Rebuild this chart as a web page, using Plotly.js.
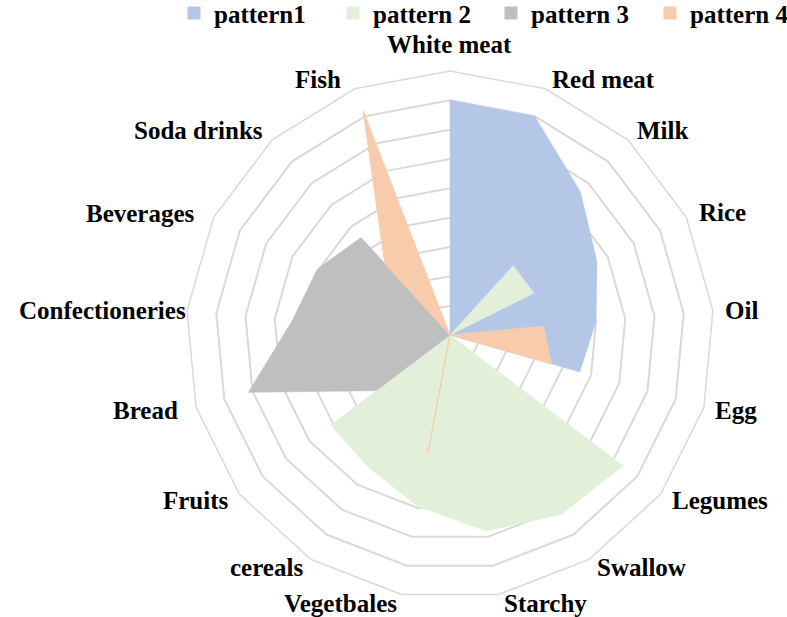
<!DOCTYPE html>
<html>
<head>
<meta charset="utf-8">
<script src="https://cdn.plot.ly/plotly-3.0.1.min.js"></script>
<style>
    body { margin: 0; background: #fff; }
    #plot1 { width: 787px; height: 617px; }
</style>
</head>
<body>
<div id="plot1"></div>
<script>
/* Categories, clockwise from the top */
const categories = ['White meat', 'Red meat', 'Milk', 'Rice', 'Oil', 'Egg', 'Legumes', 'Swallow',
    'Starchy', 'Vegetbales', 'cereals', 'Fruits', 'Bread', 'Confectioneries', 'Beverages',
    'Soda drinks', 'Fish'];

const pattern1 = [8.0, 8.0, 6.6, 5.6, 5.0, 4.6, 0, 0, 0, 0, 0, 0, 0, 0, 0, 0, 0];
const pattern2 = [0, 0, 3.2, 3.2, 0, 0, 7.4, 7.2, 6.8, 5.95, 5.3, 5.1, 0, 0, 0, 0, 0];
const pattern3 = [0, 0, 0, 0, 0, 0, 0, 0, 0, 0, 0, 3.15, 7.15, 5.4, 5.05, 4.5, 0];
const pattern4 = [0, 0, 0, 0, 3.2, 3.6, 0, 0, 0, 4.1, 0, 0, 0, 0, 0, 3.3, 8.2];

const names = ['pattern1', 'pattern 2', 'pattern 3', 'pattern 4'];
const colors = ['#B4C7E7', '#E2F0D9', '#BFBFBF', '#F8CBAD'];

/* Where the category labels sit (pixels from top-left), like the Excel layout
   anchor: 'l' = text starts there, 'r' = text ends there, 'c' = centred */
const labelPos = [
    [450, 45, 'c'], [550, 79, 'l'], [635, 131, 'l'], [697, 212, 'l'], [723, 310, 'l'],
    [713, 410, 'l'], [670, 500, 'l'], [595, 567, 'l'], [502, 603, 'l'], [399, 603, 'r'],
    [305, 567, 'r'], [231, 500, 'r'], [180, 410, 'r'], [188, 310, 'r'], [197, 213, 'r'],
    [265, 131, 'r'], [343, 79, 'r']
];

// left edge (px) of each legend entry, one small legend per pattern
const legendLeft = [174, 333, 491, 650];

const W = 787, H = 617;

// close the polygon by repeating the first point
function closed(arr){
    return arr.concat([arr[0]]);
}

var series = [pattern1, pattern2, pattern3, pattern4];
var data = [];
for(let i = 0; i < series.length; i++){
    data.push({
        type: 'scatterpolar',
        mode: 'lines',
        name: names[i],
        r: closed(series[i]),
        theta: closed(categories),
        fill: 'toself',
        fillcolor: colors[i],
        line: {color: colors[i], width: i == 3 ? 1 : 0.5},
        showlegend: false,
        hoverinfo: 'skip'
    });
}

/* legend entries with square keys (one blank point each, nothing drawn) */
for(let i = 0; i < series.length; i++){
    data.push({
        type: 'scatterpolar',
        mode: 'markers',
        name: names[i],
        r: [null],
        theta: [categories[0]],
        marker: {symbol: 'square', size: 13, color: colors[i]},
        showlegend: true,
        legend: i == 0 ? 'legend' : 'legend' + (i + 1),
        hoverinfo: 'skip'
    });
}

var annotations = [];
for(let k = 0; k < categories.length; k++){
    let p = labelPos[k];
    annotations.push({
        xref: 'paper', yref: 'paper',
        x: p[0] / W,
        y: 1 - p[1] / H,
        xanchor: p[2] == 'l' ? 'left' : (p[2] == 'r' ? 'right' : 'center'),
        yanchor: 'middle',
        text: categories[k],
        showarrow: false,
        font: {size: 25, weight: 'bold', color: '#000'}
    });
}

var gridGrey = '#D9D9D9';

var layout = {
    width: W,
    height: H,
    margin: {l: 0, r: 0, t: 0, b: 0, autoexpand: false},
    paper_bgcolor: '#fff',
    font: {family: 'Liberation Serif, Times New Roman, serif', color: '#000'},
    showlegend: true,
    annotations: annotations,
    polar: {
        domain: {x: [186 / W, 714 / W], y: [18 / H, 546 / H]},
        gridshape: 'linear',
        bgcolor: '#fff',
        radialaxis: {
            range: [0, 9],
            dtick: 1,
            showticklabels: false,
            ticks: '',
            showline: false,
            gridcolor: gridGrey,
            gridwidth: 1.5
        },
        angularaxis: {
            rotation: 90,
            direction: 'clockwise',
            showgrid: false,
            showticklabels: false,
            ticks: '',
            showline: true,
            linecolor: gridGrey,
            linewidth: 1.5
        }
    }
};

for(let i = 0; i < legendLeft.length; i++){
    layout[i == 0 ? 'legend' : 'legend' + (i + 1)] = {
        orientation: 'h',
        x: legendLeft[i] / W,
        y: 1.016,
        xanchor: 'left',
        yanchor: 'top',
        bgcolor: 'rgba(0,0,0,0)',
        font: {size: 25, weight: 'bold'}
    };
}

Plotly.newPlot('plot1', data, layout, {displayModeBar: false});
</script>
</body>
</html>
